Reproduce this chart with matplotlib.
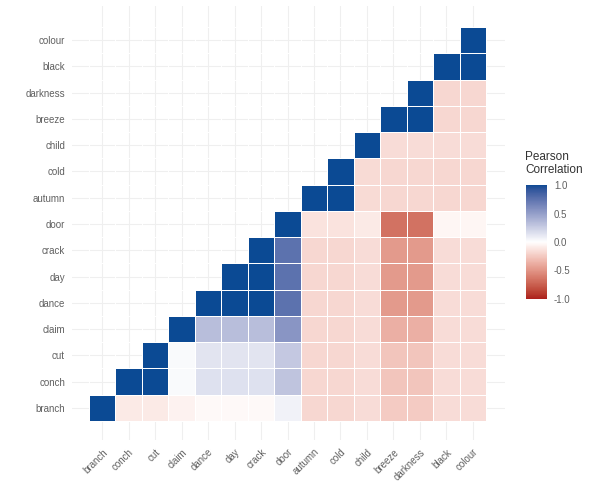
import numpy as np
import matplotlib
matplotlib.use("Agg")
import matplotlib.pyplot as plt
from matplotlib.colors import ListedColormap, Normalize, to_rgb
import matplotlib.cm as cm

plt.rcParams["font.family"] = ["Liberation Sans", "DejaVu Sans"]

words = ["branch", "conch", "cut", "claim", "dance", "day", "crack", "door",
         "autumn", "cold", "child", "breeze", "darkness", "black", "colour"]

# Pearson correlations of each word with the words that follow it in `words`
r_branch = [-0.10, -0.10, -0.06, -0.03, -0.03, -0.03, 0.07, -0.18, -0.18, -0.16, -0.24, -0.24, -0.16, -0.16]
r_conch = [1.00, 0.03, 0.15, 0.15, 0.15, 0.30, -0.18, -0.18, -0.16, -0.27, -0.27, -0.16, -0.16]
r_cut = [0.03, 0.14, 0.14, 0.14, 0.28, -0.18, -0.18, -0.16, -0.27, -0.27, -0.16, -0.16]
r_claim = [0.33, 0.33, 0.33, 0.55, -0.18, -0.18, -0.16, -0.37, -0.37, -0.16, -0.16]
r_dance = [1.00, 1.00, 0.75, -0.18, -0.18, -0.16, -0.47, -0.47, -0.16, -0.16]
r_day = [1.00, 0.75, -0.18, -0.18, -0.16, -0.47, -0.47, -0.16, -0.16]
r_crack = [0.75, -0.18, -0.18, -0.16, -0.47, -0.47, -0.16, -0.16]
r_door = [-0.13, -0.13, -0.10, -0.66, -0.66, -0.04, -0.04]
r_autumn = [1.00, -0.17, -0.18, -0.18, -0.18, -0.18]
r_cold = [-0.17, -0.18, -0.18, -0.18, -0.18]
r_child = [-0.16, -0.16, -0.16, -0.16]
r_breeze = [1.00, -0.18, -0.18]
r_darkness = [-0.18, -0.18]
r_black = [1.00]
r_colour = []

rows = [r_branch, r_conch, r_cut, r_claim, r_dance, r_day, r_crack, r_door,
        r_autumn, r_cold, r_child, r_breeze, r_darkness, r_black, r_colour]

n = len(words)
corr = np.full((n, n), np.nan)
for i, vals in enumerate(rows):
    corr[i, i] = 1.0
    for k, v in enumerate(vals):
        corr[i, i + 1 + k] = v


# diverging scale interpolated in CIE Lab (like a three-point gradient)
def srgb_to_lab(c):
    c = np.asarray(c, float)
    lin = np.where(c <= 0.04045, c / 12.92, ((c + 0.055) / 1.055) ** 2.4)
    M = np.array([[0.4124, 0.3576, 0.1805],
                  [0.2126, 0.7152, 0.0722],
                  [0.0193, 0.1192, 0.9505]])
    xyz = M @ lin / np.array([0.95047, 1.0, 1.08883])
    f = np.where(xyz > 0.008856, np.cbrt(xyz), 7.787 * xyz + 16 / 116)
    return np.array([116 * f[1] - 16, 500 * (f[0] - f[1]), 200 * (f[1] - f[2])])


def lab_to_srgb(lab):
    L, a, b = lab
    fy = (L + 16) / 116
    fx = fy + a / 500
    fz = fy - b / 200
    f = np.array([fx, fy, fz])
    xyz = np.where(f ** 3 > 0.008856, f ** 3, (f - 16 / 116) / 7.787)
    xyz = xyz * np.array([0.95047, 1.0, 1.08883])
    Minv = np.array([[3.2406, -1.5372, -0.4986],
                     [-0.9689, 1.8758, 0.0415],
                     [0.0557, -0.2040, 1.0570]])
    lin = Minv @ xyz
    c = np.where(lin <= 0.0031308, 12.92 * lin, 1.055 * np.power(np.clip(lin, 0, None), 1 / 2.4) - 0.055)
    return np.clip(c, 0, 1)


low, mid, high = srgb_to_lab(to_rgb("#AC1F1C")), srgb_to_lab(to_rgb("#FFFFFF")), srgb_to_lab(to_rgb("#0B4A94"))
samples = []
for t in np.linspace(-1, 1, 256):
    if t < 0:
        lab = mid + (low - mid) * (-t)
    else:
        lab = mid + (high - mid) * t
    samples.append(lab_to_srgb(lab))
cmap = ListedColormap(samples)
norm = Normalize(-1, 1)

W, H = 594, 488
fig = plt.figure(figsize=(W / 100, H / 100), dpi=100)
ax = fig.add_axes([72 / W, (H - 440) / H, (505 - 72) / W, (440 - 6) / H])

# faint panel grid at each category
for p in range(n):
    ax.axvline(p, color="#EFEFEF", lw=0.8, zorder=0)
    ax.axhline(p, color="#EFEFEF", lw=0.8, zorder=0)

masked = np.ma.masked_invalid(corr)
edges = np.arange(n + 1) - 0.5
ax.pcolormesh(edges, edges, masked, cmap=cmap, norm=norm,
              edgecolor="white", linewidth=0.45, zorder=1)

ax.set_xlim(-0.5 - 17 / 26.5, n - 0.5 + 19 / 26.5)
ax.set_ylim(-0.5 - 19 / 26.3, n - 0.5 + 21 / 26.3)
for s in ax.spines.values():
    s.set_visible(False)
ax.set_xticks(range(n))
ax.set_yticks(range(n))
ax.set_xticklabels(words, rotation=45, ha="right", va="top",
                   rotation_mode="anchor", fontsize=7, color="#606060")
ax.set_yticklabels(words, fontsize=7, color="#606060")
ax.tick_params(length=0, pad=5)

# colour bar legend
cax = fig.add_axes([526 / W, (H - 299) / H, 21 / W, (299 - 185) / H])
sm = cm.ScalarMappable(norm=norm, cmap=cmap)
cb = fig.colorbar(sm, cax=cax, ticks=[-1, -0.5, 0, 0.5, 1])
cb.outline.set_visible(False)
cb.ax.set_yticklabels(["-1.0", "-0.5", "0.0", "0.5", "1.0"], fontsize=7, color="#606060")
cb.ax.tick_params(length=3, width=0.6, color="white", pad=2)
fig.text(525 / W, 1 - 151 / H, "Pearson\nCorrelation", fontsize=8.5,
         color="#333333", va="top", ha="left", linespacing=1.15)

fig.savefig("out.png", dpi=100, facecolor="white")
